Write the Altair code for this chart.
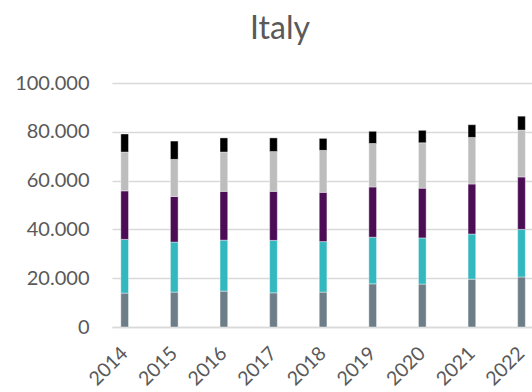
import altair as alt
import pandas as pd

years = ["2014", "2015", "2016", "2017", "2018", "2019", "2020", "2021", "2022"]

# Five stacked components per year (thousands of units)
series_names = ["A", "B", "C", "D", "E"]
series_a = [13.9, 14.3, 14.7, 14.0, 14.3, 17.7, 17.6, 19.6, 20.5]
series_b = [22.0, 20.5, 20.9, 21.5, 20.7, 19.1, 18.9, 18.5, 19.5]
series_c = [19.9, 18.7, 20.0, 20.1, 20.2, 20.6, 20.4, 20.5, 21.5]
series_d = [15.9, 15.2, 16.1, 16.3, 17.2, 17.8, 18.6, 19.1, 19.2]
series_e = [7.4, 7.5, 5.8, 5.6, 4.9, 5.0, 5.1, 5.2, 5.7]
series_colors = ["#6e7e88", "#33b8bf", "#4b0e55", "#bdbdbd", "#000000"]

rows = []
for name, vals in zip(series_names, [series_a, series_b, series_c, series_d, series_e]):
    for yr, v in zip(years, vals):
        rows.append({"year": yr, "series": name, "value": v * 1000,
                     "rank": series_names.index(name)})
df = pd.DataFrame(rows)

FONT = "Lato"
TEXT = "#595959"
GRID = "#d9d9d9"

chart = (
    alt.Chart(df)
    .mark_bar(stroke="white", strokeWidth=0.4)
    .encode(
        x=alt.X(
            "year:N",
            sort=years,
            title=None,
            scale=alt.Scale(paddingInner=0.845, paddingOuter=0.156, align=0.57),
            axis=alt.Axis(
                labelAngle=-45,
                labelAlign="right",
                labelBaseline="middle",
                labelPadding=23,
                labelFontSize=19.5,
                labelFont=FONT,
                labelColor=TEXT,
                ticks=False,
                domainColor=GRID,
                domainWidth=1.5,
            ),
        ),
        y=alt.Y(
            "value:Q",
            stack="zero",
            title=None,
            scale=alt.Scale(domain=[0, 100000], nice=False),
            axis=alt.Axis(
                values=[0, 20000, 40000, 60000, 80000, 100000],
                labelExpr="replace(format(datum.value, ','), ',', '.')",
                labelFontSize=20,
                labelFont=FONT,
                labelColor=TEXT,
                labelPadding=23,
                ticks=False,
                domain=False,
                gridColor=GRID,
                gridWidth=1.5,
            ),
        ),
        color=alt.Color(
            "series:N",
            scale=alt.Scale(domain=series_names, range=series_colors),
            legend=None,
        ),
        order=alt.Order("rank:Q", sort="ascending"),
    )
    .properties(
        width=420,
        height=244,
        title=alt.TitleParams(
            "Italy",
            font=FONT,
            fontSize=32,
            fontWeight="normal",
            color=TEXT,
            anchor="middle",
            dx=-42,
            offset=27,
        ),
        autosize=alt.AutoSizeParams(type="none"),
        padding={"left": 112, "top": 83, "right": 0, "bottom": 65},
    )
    .configure_view(stroke=None)
)

chart.save("out.html", embed_options={"renderer": "svg", "actions": False})
